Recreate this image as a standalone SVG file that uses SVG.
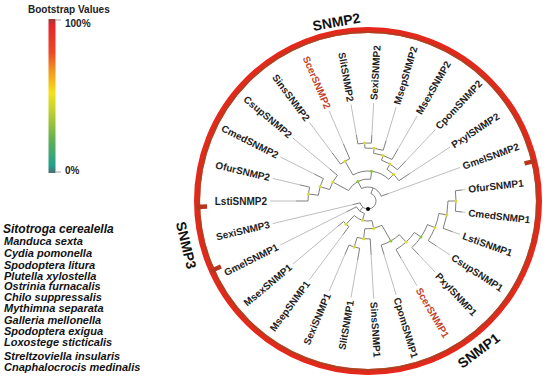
<svg xmlns="http://www.w3.org/2000/svg" width="550" height="380" viewBox="0 0 550 380">
<defs>
<linearGradient id="boot" x1="0" y1="0" x2="0" y2="1">
<stop offset="0" stop-color="#9a3d3a"/>
<stop offset="0.04" stop-color="#e4262a"/>
<stop offset="0.22" stop-color="#ec4a26"/>
<stop offset="0.34" stop-color="#f29a1c"/>
<stop offset="0.48" stop-color="#f4e21a"/>
<stop offset="0.62" stop-color="#b7cc34"/>
<stop offset="0.78" stop-color="#64b050"/>
<stop offset="0.95" stop-color="#22a08e"/>
<stop offset="1" stop-color="#4b6f74"/>
</linearGradient>
<style>
.lab{font-family:"Liberation Sans",Arial,sans-serif;font-size:10px;font-weight:bold;fill:#1e1e1e}
.red{fill:#c2452b}
.grp{font-family:"Liberation Sans",Arial,sans-serif;font-size:14px;font-weight:bold;fill:#111}
.sp{font-family:"Liberation Sans",Arial,sans-serif;font-size:11px;font-weight:bold;font-style:italic;fill:#111}
.leg{font-family:"Liberation Sans",Arial,sans-serif;font-size:10px;font-weight:bold;fill:#222}
.br{fill:none;stroke:#707070;stroke-width:0.9}
.ld{fill:none;stroke:#a0a0a0;stroke-width:0.7}
.nd{fill:#d9dc2e}
.ng{fill:#8cc63f}
.tick{stroke:#b8361f;stroke-width:4.5;stroke-linecap:butt}
</style>
</defs>
<rect width="550" height="380" fill="#ffffff"/>

<g id="legend">
<text class="leg" x="28" y="13">Bootstrap Values</text>
<rect x="48.5" y="19" width="7" height="154" fill="url(#boot)"/>
<line x1="55.5" y1="20" x2="61" y2="20" stroke="#888" stroke-width="0.8"/>
<line x1="55.5" y1="172" x2="61" y2="172" stroke="#888" stroke-width="0.8"/>
<text class="leg" x="65" y="27">100%</text>
<text class="leg" x="65" y="174">0%</text>
</g>

<g id="species">
<text class="sp red" x="3" y="233" style="font-size:12px">Sitotroga cerealella</text>
<text class="sp" x="4" y="245">Manduca sexta</text>
<text class="sp" x="4" y="257">Cydia pomonella</text>
<text class="sp" x="4" y="268.5">Spodoptera litura</text>
<text class="sp" x="4" y="279.5">Plutella xylostella</text>
<text class="sp" x="4" y="290">Ostrinia furnacalis</text>
<text class="sp" x="4" y="300.5">Chilo suppressalis</text>
<text class="sp" x="4" y="312">Mythimna separata</text>
<text class="sp" x="4" y="323.5">Galleria mellonella</text>
<text class="sp" x="4" y="334.5">Spodoptera exigua</text>
<text class="sp" x="4" y="346">Loxostege sticticalis</text>
<text class="sp" x="4" y="359.5">Streltzoviella insularis</text>
<text class="sp" x="4" y="371">Cnaphalocrocis medinalis</text>
</g>

<g id="clade-ring">
<circle cx="368" cy="201" r="171" fill="none" stroke="#e3281c" stroke-width="6"/>
<circle cx="368" cy="201" r="168.8" fill="none" stroke="#9c4a22" stroke-width="1.8" opacity="0.75"/>
<line class="tick" x1="535.25" y1="160.85" x2="524.55" y2="163.41"/>
<line class="tick" x1="196.1" y1="207" x2="207.1" y2="206.62"/>
<line class="tick" x1="210.87" y1="270.96" x2="220.92" y2="266.49"/>
<text class="grp" text-anchor="middle" transform="translate(368,201) rotate(-100) translate(177,0) rotate(90)">SNMP2</text>
<text class="grp" text-anchor="middle" transform="translate(368,201) rotate(53.5) translate(191,0) rotate(-90)">SNMP1</text>
<text class="grp" text-anchor="middle" transform="translate(368,201) rotate(166.3) translate(192,0) rotate(-90)">SNMP3</text>
</g>

<g id="connectors">
<path class="br" d="M308,201 A60,60 0 0 1 309.62,187.16 M308,201 L296,201 M309.62,187.16 L299.89,184.86"/>
<path class="br" d="M318.34,195.2 A50,50 0 0 1 323.32,178.56 M318.34,195.2 L308.41,194.03 M323.32,178.56 L314.38,174.07"/>
<path class="br" d="M329.68,189.53 A40,40 0 0 1 337.36,175.29 M329.68,189.53 L320.1,186.66 M337.36,175.29 L329.7,168.86"/>
<path class="br" d="M340.53,164.1 A46,46 0 0 1 349.78,158.76 M340.53,164.1 L332.17,152.87 M349.78,158.76 L343.44,144.07"/>
<path class="br" d="M357.93,143.88 A58,58 0 0 1 371.37,143.1 M357.93,143.88 L356.37,135.02 M371.37,143.1 L371.83,135.11"/>
<path class="br" d="M364.92,148.09 A53,53 0 0 1 383.2,150.23 M364.92,148.09 L364.63,143.1 M383.2,150.23 L386.07,140.65"/>
<path class="br" d="M373.57,153.32 A48,48 0 0 1 392,159.43 M373.57,153.32 L374.15,148.36 M392,159.43 L398,149.04"/>
<path class="br" d="M381.52,160.18 A43,43 0 0 1 397.51,169.72 M381.52,160.18 L383.1,155.44 M397.51,169.72 L405.74,160.99"/>
<path class="br" d="M386.96,169.23 A37,37 0 0 1 398.91,180.67 M386.96,169.23 L390.04,164.08 M398.91,180.67 L409.77,173.52"/>
<path class="br" d="M353,175.02 A30,30 0 0 1 388.75,179.33 M353,175.02 L345,161.16 M388.75,179.33 L393.59,174.27"/>
<path class="br" d="M348.64,190.56 A22,22 0 0 1 370.63,179.16 M348.64,190.56 L332.79,182.02 M370.63,179.16 L371.59,171.22"/>
<path class="br" d="M361.56,188.57 A14,14 0 0 1 381.16,196.21 M361.56,188.57 L357.88,181.47 M381.16,196.21 L388.67,193.48"/>
<path class="br" d="M455.4,190.78 A88,88 0 0 1 455.4,211.22 M455.4,190.78 L462.36,189.96 M455.4,211.22 L462.36,212.04"/>
<path class="br" d="M448,201 A80,80 0 0 1 443.18,228.36 M448,201 L456,201 M443.18,228.36 L452.57,231.78"/>
<path class="br" d="M438.91,213.5 A72,72 0 0 1 428.16,240.56 M438.91,213.5 L446.78,214.89 M428.16,240.56 L436.51,246.06"/>
<path class="br" d="M427.48,224.63 A64,64 0 0 1 411.92,247.55 M427.48,224.63 L434.91,227.58 M411.92,247.55 L418.78,254.83"/>
<path class="br" d="M414.33,232.45 A56,56 0 0 1 396,249.5 M414.33,232.45 L420.95,236.95 M396,249.5 L401,258.16"/>
<path class="br" d="M399.33,234.68 A46,46 0 0 1 381.2,245.07 M399.33,234.68 L406.14,242.01 M381.2,245.07 L384.06,254.65"/>
<path class="br" d="M359.66,248.27 A48,48 0 0 1 348.99,245.07 M359.66,248.27 L357.58,260.09 M348.99,245.07 L345.03,254.26"/>
<path class="br" d="M370.21,238.94 A38,38 0 0 1 357.1,237.4 M370.21,238.94 L371.14,254.91 M357.1,237.4 L354.23,246.98"/>
<path class="br" d="M381.91,225.3 A28,28 0 0 1 364.75,228.81 M381.91,225.3 L390.85,240.92 M364.75,228.81 L363.59,238.74"/>
<path class="br" d="M348.89,226.67 A32,32 0 0 1 343.49,221.57 M348.89,226.67 L342.92,234.69 M343.49,221.57 L337.36,226.71"/>
<path class="br" d="M372.01,220.59 A20,20 0 0 1 354.28,215.55 M372.01,220.59 L373.61,228.43 M354.28,215.55 L346.04,224.28"/>
<path class="br" d="M364.44,213.5 A13,13 0 0 1 356.38,206.83 M364.44,213.5 L362.52,220.24 M356.38,206.83 L346.55,211.77"/>
<path class="br" d="M370.91,193.55 A8,8 0 1 1 360.22,202.84 M370.91,193.55 L373.09,187.96 M362.9,207.16 L359.71,211.02 M360.22,202.84 L352.43,204.69"/>
<path class="ld" d="M296,201 L270,201 M299.89,184.86 L272.64,178.4 M314.38,174.07 L280.42,157.02 M329.7,168.86 L292.93,138.01 M332.17,152.87 L309.48,122.39 M343.44,144.07 L329.18,111.01 M356.37,135.02 L350.98,104.49 M371.83,135.11 L373.69,103.17 M386.07,140.65 L396.11,107.12 M398,149.04 L417,116.13 M405.74,160.99 L435.25,129.72 M409.77,173.52 L449.88,147.15 M388.67,193.48 L460.09,167.48 M462.36,189.96 L465.34,189.62 M462.36,212.04 L465.34,212.38 M452.57,231.78 L460.09,234.52 M436.51,246.06 L449.88,254.85 M418.78,254.83 L435.25,272.28 M401,258.16 L417,285.87 M384.06,254.65 L396.11,294.88 M371.14,254.91 L373.69,298.83 M357.58,260.09 L350.98,297.51 M345.03,254.26 L329.18,290.99 M342.92,234.69 L309.48,279.61 M337.36,226.71 L292.93,263.99 M346.55,211.77 L280.42,244.98 M352.43,204.69 L272.64,223.6"/>
<g id="bootstrap-marks">
<circle class="nd" cx="308.41" cy="194.03" r="1.5"/>
<circle class="nd" cx="320.1" cy="186.66" r="1.5"/>
<circle class="nd" cx="332.79" cy="182.02" r="1.5"/>
<circle class="nd" cx="345" cy="161.16" r="1.5"/>
<circle class="nd" cx="364.63" cy="143.1" r="1.5"/>
<circle class="nd" cx="374.15" cy="148.36" r="1.5"/>
<circle class="nd" cx="383.1" cy="155.44" r="1.5"/>
<circle class="nd" cx="390.04" cy="164.08" r="1.5"/>
<circle class="nd" cx="393.59" cy="174.27" r="1.5"/>
<circle class="ng" cx="371.59" cy="171.22" r="1.5"/>
<circle class="ng" cx="357.88" cy="181.47" r="1.5"/>
<circle class="nd" cx="456" cy="201" r="1.5"/>
<circle class="nd" cx="446.78" cy="214.89" r="1.5"/>
<circle class="nd" cx="434.91" cy="227.58" r="1.5"/>
<circle class="ng" cx="420.95" cy="236.95" r="1.5"/>
<circle class="nd" cx="406.14" cy="242.01" r="1.5"/>
<circle class="ng" cx="390.85" cy="240.92" r="1.5"/>
<circle class="nd" cx="354.23" cy="246.98" r="1.5"/>
<circle class="nd" cx="363.59" cy="238.74" r="1.5"/>
<circle class="nd" cx="373.61" cy="228.43" r="1.5"/>
<circle class="nd" cx="346.04" cy="224.28" r="1.5"/>
<circle class="nd" cx="362.52" cy="220.24" r="1.5"/>
</g>
<circle cx="368" cy="209" r="2" fill="#000"/>
</g>

<g id="leaf-LstiSNMP2"><text class="lab" text-anchor="end" dy="0.35em" transform="translate(368,201) rotate(180) translate(101,0) rotate(180)">LstiSNMP2</text></g>
<g id="leaf-OfurSNMP2"><text class="lab" text-anchor="end" dy="0.35em" transform="translate(368,201) rotate(-166.67) translate(101,0) rotate(180)">OfurSNMP2</text></g>
<g id="leaf-CmedSNMP2"><text class="lab" text-anchor="end" dy="0.35em" transform="translate(368,201) rotate(-153.33) translate(101,0) rotate(180)">CmedSNMP2</text></g>
<g id="leaf-CsupSNMP2"><text class="lab" text-anchor="end" dy="0.35em" transform="translate(368,201) rotate(-140) translate(101,0) rotate(180)">CsupSNMP2</text></g>
<g id="leaf-SinsSNMP2"><text class="lab" text-anchor="end" dy="0.35em" transform="translate(368,201) rotate(-126.67) translate(101,0) rotate(180)">SinsSNMP2</text></g>
<g id="leaf-ScerSNMP2"><text class="lab red" text-anchor="end" dy="0.35em" transform="translate(368,201) rotate(-113.33) translate(101,0) rotate(180)">ScerSNMP2</text></g>
<g id="leaf-SlitSNMP2"><text class="lab" text-anchor="end" dy="0.35em" transform="translate(368,201) rotate(-100) translate(101,0) rotate(180)">SlitSNMP2</text></g>
<g id="leaf-SexiSNMP2"><text class="lab" dy="0.35em" transform="translate(368,201) rotate(-86.67) translate(101,0)">SexiSNMP2</text></g>
<g id="leaf-MsepSNMP2"><text class="lab" dy="0.35em" transform="translate(368,201) rotate(-73.33) translate(101,0)">MsepSNMP2</text></g>
<g id="leaf-MsexSNMP2"><text class="lab" dy="0.35em" transform="translate(368,201) rotate(-60) translate(101,0)">MsexSNMP2</text></g>
<g id="leaf-CpomSNMP2"><text class="lab" dy="0.35em" transform="translate(368,201) rotate(-46.67) translate(101,0)">CpomSNMP2</text></g>
<g id="leaf-PxylSNMP2"><text class="lab" dy="0.35em" transform="translate(368,201) rotate(-33.33) translate(101,0)">PxylSNMP2</text></g>
<g id="leaf-GmelSNMP2"><text class="lab" dy="0.35em" transform="translate(368,201) rotate(-20) translate(101,0)">GmelSNMP2</text></g>
<g id="leaf-OfurSNMP1"><text class="lab" dy="0.35em" transform="translate(368,201) rotate(-6.67) translate(101,0)">OfurSNMP1</text></g>
<g id="leaf-CmedSNMP1"><text class="lab" dy="0.35em" transform="translate(368,201) rotate(6.67) translate(101,0)">CmedSNMP1</text></g>
<g id="leaf-LstiSNMP1"><text class="lab" dy="0.35em" transform="translate(368,201) rotate(20) translate(101,0)">LstiSNMP1</text></g>
<g id="leaf-CsupSNMP1"><text class="lab" dy="0.35em" transform="translate(368,201) rotate(33.33) translate(101,0)">CsupSNMP1</text></g>
<g id="leaf-PxylSNMP1"><text class="lab" dy="0.35em" transform="translate(368,201) rotate(46.67) translate(101,0)">PxylSNMP1</text></g>
<g id="leaf-ScerSNMP1"><text class="lab red" dy="0.35em" transform="translate(368,201) rotate(60) translate(101,0)">ScerSNMP1</text></g>
<g id="leaf-CpomSNMP1"><text class="lab" dy="0.35em" transform="translate(368,201) rotate(73.33) translate(101,0)">CpomSNMP1</text></g>
<g id="leaf-SinsSNMP1"><text class="lab" dy="0.35em" transform="translate(368,201) rotate(86.67) translate(101,0)">SinsSNMP1</text></g>
<g id="leaf-SlitSNMP1"><text class="lab" text-anchor="end" dy="0.35em" transform="translate(368,201) rotate(100) translate(101,0) rotate(180)">SlitSNMP1</text></g>
<g id="leaf-SexiSNMP1"><text class="lab" text-anchor="end" dy="0.35em" transform="translate(368,201) rotate(113.33) translate(101,0) rotate(180)">SexiSNMP1</text></g>
<g id="leaf-MsepSNMP1"><text class="lab" text-anchor="end" dy="0.35em" transform="translate(368,201) rotate(126.67) translate(101,0) rotate(180)">MsepSNMP1</text></g>
<g id="leaf-MsexSNMP1"><text class="lab" text-anchor="end" dy="0.35em" transform="translate(368,201) rotate(140) translate(101,0) rotate(180)">MsexSNMP1</text></g>
<g id="leaf-GmelSNMP1"><text class="lab" text-anchor="end" dy="0.35em" transform="translate(368,201) rotate(153.33) translate(101,0) rotate(180)">GmelSNMP1</text></g>
<g id="leaf-SexiSNMP3"><text class="lab" text-anchor="end" dy="0.35em" transform="translate(368,201) rotate(166.67) translate(101,0) rotate(180)">SexiSNMP3</text></g>
</svg>
